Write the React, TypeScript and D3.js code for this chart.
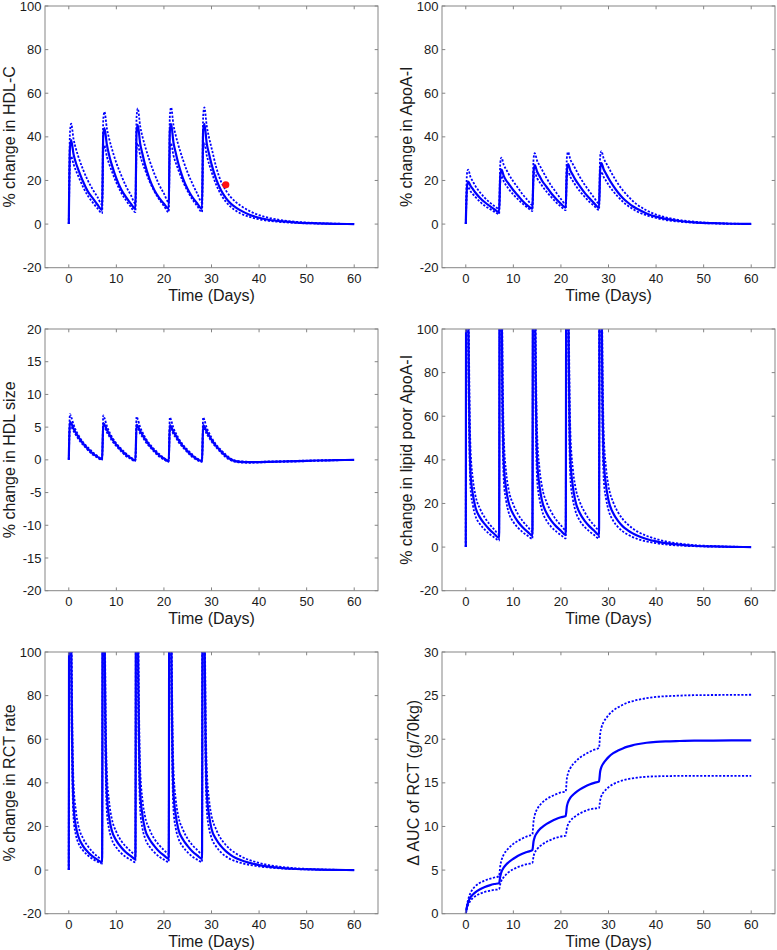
import React from "react";
import * as d3 from "d3";

// Shared time grid (days)
const T = [
  0, 0.25, 0.5, 1, 1.5, 2, 3, 4, 5, 6,
  7, 7.25, 7.5, 8, 8.5, 9, 10, 11, 12, 13,
  14, 14.25, 14.5, 15, 15.5, 16, 17, 18, 19, 20,
  21, 21.25, 21.5, 22, 22.5, 23, 24, 25, 26, 27,
  28, 28.25, 28.5, 29, 29.5, 30, 31, 32, 33, 34,
  35, 36, 38, 40, 42, 45, 48, 52, 56, 60,
];

// % change in HDL-C
const hdlMed = [
  0, 35, 38.5, 32, 28, 25, 19.5, 15, 12, 9,
  6.5, 41, 44, 36.5, 31.5, 27.5, 21, 16, 12.5, 9.5,
  7, 42.5, 45.5, 37, 32, 27.5, 20.5, 15.5, 12, 9.3,
  7, 43, 46, 37.5, 32.5, 28, 21, 16, 12.3, 9.5,
  7, 43, 46, 37, 32, 27.5, 20.5, 15.5, 12, 9.5,
  7.8, 6.4, 4.3, 2.9, 2.0, 1.2, 0.7, 0.35, 0.12, 0,
];
const hdlHi = [
  0, 42, 46, 39, 34.5, 31, 25, 20, 16, 12.5,
  9, 48, 51.5, 44, 39, 35, 28, 22.5, 17.5, 13.5,
  9.5, 49, 53, 45, 40, 36, 29, 23, 18, 14,
  10, 49.5, 53.5, 45.5, 40.5, 36.5, 29.5, 23.5, 18.5, 14,
  10, 49.5, 53.5, 45, 39.5, 35, 26, 19.5, 15.5, 12.5,
  10.3, 8.6, 6, 4.1, 2.9, 1.7, 1.0, 0.5, 0.2, 0.05,
];
const hdlLo = [
  0, 28, 31, 27.5, 24.5, 22, 17, 13, 10, 7.3,
  5, 33, 36, 31, 27.5, 24.5, 19, 14.5, 11, 8,
  5.5, 34, 37, 31.5, 28, 25, 19.5, 15, 11.3, 8.3,
  5.5, 34, 37, 31.5, 28, 25, 19.5, 15, 11.3, 8.3,
  5.5, 34, 37, 31.5, 27.5, 24, 18, 13.5, 10.3, 8,
  6.3, 5, 3.3, 2.2, 1.5, 0.9, 0.5, 0.25, 0.1, 0,
];
const hdlObsT = [33];
const hdlObsV = [18];

// % change in ApoA-I
const apoMed = [
  0, 17, 19.5, 17.5, 16, 14.5, 12, 10, 8.3, 6.8,
  5.5, 22, 25, 22, 20, 18.5, 15.5, 13, 10.5, 8.5,
  7, 24, 27, 24, 22, 20, 17, 14, 11.5, 9.3,
  7.5, 24.5, 27.5, 24.5, 22.5, 20.5, 17.3, 14.3, 11.8, 9.5,
  7.5, 25, 28, 25, 23, 21, 17.5, 14.5, 12, 10,
  8.3, 7, 4.9, 3.4, 2.4, 1.4, 0.8, 0.4, 0.15, 0.05,
];
const apoHi = [
  0, 23, 25, 21.5, 19.5, 17.5, 14.5, 12, 10, 8.3,
  7, 28, 30.5, 27, 25, 23, 19.5, 16.5, 13.5, 11,
  8.7, 30, 32.5, 29, 27, 25, 21, 17.5, 14.5, 11.5,
  9.2, 30.5, 33, 29.5, 27.5, 25.5, 21.5, 18, 15, 12,
  9.5, 31, 33.5, 30, 28, 26, 22, 18.5, 15.5, 13,
  10.8, 9, 6.3, 4.4, 3.1, 1.8, 1.1, 0.5, 0.2, 0.05,
];
const apoLo = [
  0, 15, 17, 15, 13.7, 12.5, 10.2, 8.4, 7, 5.7,
  4.6, 19.5, 22, 19.5, 17.7, 16.2, 13.5, 11.3, 9.3, 7.5,
  6, 21, 23.5, 21, 19.3, 17.7, 14.8, 12.3, 10, 8,
  6.4, 21.5, 24, 21.5, 19.8, 18, 15, 12.5, 10.2, 8.3,
  6.5, 21.5, 24, 21.5, 19.8, 18, 15, 12.5, 10.3, 8.5,
  7, 5.8, 4, 2.8, 1.9, 1.1, 0.6, 0.3, 0.1, 0,
];

// % change in HDL size
const sizeMed = [
  0, 5.8, 5.6, 4.8, 4.1, 3.5, 2.5, 1.7, 1.0, 0.5,
  0.1, 5.6, 5.4, 4.6, 3.9, 3.3, 2.3, 1.5, 0.8, 0.3,
  -0.1, 5.4, 5.2, 4.4, 3.8, 3.2, 2.2, 1.4, 0.7, 0.2,
  -0.2, 5.3, 5.1, 4.3, 3.7, 3.1, 2.1, 1.3, 0.6, 0.1,
  -0.2, 5.3, 5.1, 4.3, 3.7, 3.1, 2.1, 1.3, 0.6, 0.1,
  -0.2, -0.3, -0.35, -0.35, -0.3, -0.25, -0.2, -0.1, -0.05, 0,
];
const sizeHi = [
  0, 7.0, 6.6, 5.4, 4.5, 3.8, 2.7, 1.9, 1.2, 0.6,
  0.15, 6.8, 6.4, 5.2, 4.3, 3.6, 2.5, 1.7, 1.0, 0.4,
  0, 6.6, 6.2, 5.0, 4.2, 3.5, 2.4, 1.6, 0.9, 0.3,
  -0.1, 6.5, 6.1, 4.9, 4.1, 3.4, 2.3, 1.5, 0.8, 0.2,
  -0.1, 6.5, 6.1, 4.9, 4.1, 3.4, 2.3, 1.5, 0.8, 0.2,
  -0.1, -0.2, -0.3, -0.3, -0.25, -0.2, -0.15, -0.08, -0.03, 0,
];
const sizeLo = [
  0, 5.0, 5.0, 4.4, 3.8, 3.2, 2.3, 1.5, 0.8, 0.35,
  0, 4.9, 4.9, 4.2, 3.6, 3.0, 2.1, 1.3, 0.6, 0.15,
  -0.2, 4.8, 4.8, 4.0, 3.5, 2.9, 2.0, 1.2, 0.5, 0.05,
  -0.3, 4.7, 4.7, 3.9, 3.4, 2.8, 1.9, 1.1, 0.4, -0.05,
  -0.3, 4.7, 4.7, 3.9, 3.4, 2.8, 1.9, 1.1, 0.4, -0.05,
  -0.3, -0.4, -0.45, -0.4, -0.35, -0.3, -0.25, -0.15, -0.07, 0,
];

// % change in lipid poor ApoA-I
const lpaMed = [
  0, 300, 120, 34, 24, 18.5, 13.5, 10.5, 8, 6,
  4.2, 320, 130, 38, 26.5, 20.5, 15, 11.5, 9, 7,
  5.3, 330, 135, 40, 28, 21.5, 15.5, 12, 9.5, 7.5,
  5.5, 330, 135, 40, 28, 21.5, 15.5, 12, 9.5, 7.5,
  5.5, 330, 135, 40, 28, 21.5, 15.5, 12, 9.5, 7.8,
  6.4, 5.3, 3.7, 2.6, 1.8, 1.1, 0.6, 0.3, 0.1, 0,
];
const lpaHi = [
  0, 350, 150, 45, 31, 24, 17.5, 13.5, 10.5, 8,
  6, 370, 160, 50, 34, 26.5, 19.5, 15, 11.8, 9.3,
  7.3, 380, 165, 52, 36, 28, 20.5, 16, 12.5, 10,
  7.8, 380, 165, 52, 36, 28, 20.5, 16, 12.5, 10,
  7.8, 380, 165, 52, 36, 28, 20.5, 16, 12.8, 10.5,
  8.7, 7.2, 5.2, 3.7, 2.6, 1.6, 0.9, 0.45, 0.2, 0.05,
];
const lpaLo = [
  0, 250, 95, 27, 19, 14.5, 10.5, 8, 6, 4.4,
  3, 270, 100, 30, 21, 16, 11.5, 8.8, 6.8, 5.2,
  3.8, 280, 105, 31, 22, 17, 12, 9.2, 7.2, 5.5,
  4, 280, 105, 31, 22, 17, 12, 9.2, 7.2, 5.5,
  4, 280, 105, 31, 22, 17, 12, 9.2, 7.2, 5.8,
  4.7, 3.8, 2.6, 1.8, 1.2, 0.7, 0.4, 0.2, 0.05, 0,
];

// % change in RCT rate
const rctMed = [
  0, 300, 110, 30, 20, 15.5, 11, 8.3, 6.3, 4.8,
  3.6, 320, 120, 35, 24, 18.5, 13.5, 10.5, 8.2, 6.5,
  5, 330, 125, 36, 25, 19, 14, 11, 8.5, 6.7,
  5.1, 330, 125, 36, 25, 19, 14, 11, 8.5, 6.7,
  5.1, 330, 125, 36, 25, 19, 14, 11, 8.7, 7,
  5.7, 4.7, 3.3, 2.3, 1.6, 0.9, 0.5, 0.25, 0.1, 0,
];
const rctHi = [
  0, 350, 135, 40, 27, 20.5, 14.5, 11, 8.3, 6.3,
  5, 370, 145, 45, 31, 24, 17.5, 13.5, 10.8, 8.7,
  7, 380, 150, 47, 32, 25, 18.5, 14.3, 11.4, 9.2,
  7.4, 380, 150, 47, 32, 25, 18.5, 14.3, 11.4, 9.2,
  7.4, 380, 150, 47, 32, 25, 18.5, 14.3, 11.5, 9.4,
  7.8, 6.5, 4.6, 3.3, 2.3, 1.4, 0.8, 0.4, 0.15, 0.05,
];
const rctLo = [
  0, 250, 90, 24, 16, 12.5, 9, 6.8, 5.1, 3.9,
  3, 270, 95, 27, 18.5, 14.3, 10.3, 7.8, 6, 4.7,
  3.6, 280, 100, 28, 19, 14.8, 10.7, 8.1, 6.2, 4.8,
  3.7, 280, 100, 28, 19, 14.8, 10.7, 8.1, 6.2, 4.8,
  3.7, 280, 100, 28, 19, 14.8, 10.7, 8.1, 6.3, 5,
  4.1, 3.4, 2.4, 1.7, 1.2, 0.7, 0.4, 0.2, 0.05, 0,
];

// Δ AUC of RCT (g/70kg)
const aucMed = [
  0, 0.8, 1.3, 1.9, 2.2, 2.45, 2.8, 3.05, 3.25, 3.4,
  3.5, 4.3, 4.8, 5.3, 5.65, 5.9, 6.3, 6.65, 6.9, 7.1,
  7.3, 8.3, 8.8, 9.3, 9.65, 9.9, 10.3, 10.6, 10.85, 11.05,
  11.2, 12.3, 12.8, 13.3, 13.6, 13.85, 14.25, 14.55, 14.8, 15,
  15.15, 16.3, 16.8, 17.3, 17.65, 17.95, 18.4, 18.7, 18.95, 19.15,
  19.3, 19.42, 19.6, 19.7, 19.76, 19.8, 19.83, 19.85, 19.86, 19.87,
];
const aucHi = [
  0, 1.0, 1.6, 2.4, 2.85, 3.15, 3.55, 3.8, 4.0, 4.15,
  4.3, 5.5, 6.1, 6.8, 7.2, 7.5, 8.0, 8.35, 8.65, 8.9,
  9.1, 10.6, 11.3, 12.0, 12.4, 12.7, 13.15, 13.45, 13.7, 13.9,
  14.0, 15.5, 16.1, 16.7, 17.1, 17.4, 17.9, 18.25, 18.55, 18.8,
  19.0, 20.6, 21.3, 22.0, 22.4, 22.75, 23.3, 23.65, 23.95, 24.2,
  24.35, 24.5, 24.7, 24.85, 24.93, 25.0, 25.05, 25.07, 25.08, 25.1,
];
const aucLo = [
  0, 0.6, 1.0, 1.5, 1.8, 2.0, 2.3, 2.5, 2.63, 2.73,
  2.8, 3.4, 3.8, 4.2, 4.5, 4.75, 5.1, 5.35, 5.55, 5.7,
  5.8, 6.6, 7.0, 7.4, 7.7, 7.9, 8.25, 8.5, 8.7, 8.85,
  8.95, 9.8, 10.25, 10.65, 10.95, 11.15, 11.5, 11.75, 11.95, 12.05,
  12.1, 13.0, 13.5, 13.95, 14.25, 14.5, 14.85, 15.1, 15.28, 15.42,
  15.52, 15.6, 15.7, 15.75, 15.77, 15.8, 15.8, 15.8, 15.8, 15.8,
];

const xTicks = [0, 10, 20, 30, 40, 50, 60];
const yTicksPct = [-20, 0, 20, 40, 60, 80, 100];
const yTicksSize = [-20, -15, -10, -5, 0, 5, 10, 15, 20];
const yTicksAuc = [0, 5, 10, 15, 20, 25, 30];

const xLabel = "Time (Days)";

const panels = [
  { id: "p1", col: 0, row: 0, yDomain: [-20, 100], yTicks: yTicksPct, label: "% change in HDL-C", med: hdlMed, hi: hdlHi, lo: hdlLo, labelOff: 30 },
  { id: "p2", col: 1, row: 0, yDomain: [-20, 100], yTicks: yTicksPct, label: "% change in ApoA-I", med: apoMed, hi: apoHi, lo: apoLo, labelOff: 30 },
  { id: "p3", col: 0, row: 1, yDomain: [-20, 20], yTicks: yTicksSize, label: "% change in HDL size", med: sizeMed, hi: sizeHi, lo: sizeLo, labelOff: 30 },
  { id: "p4", col: 1, row: 1, yDomain: [-20, 100], yTicks: yTicksPct, label: "% change in lipid poor ApoA-I", med: lpaMed, hi: lpaHi, lo: lpaLo, labelOff: 30 },
  { id: "p5", col: 0, row: 2, yDomain: [-20, 100], yTicks: yTicksPct, label: "% change in RCT rate", med: rctMed, hi: rctHi, lo: rctLo, labelOff: 30 },
  { id: "p6", col: 1, row: 2, yDomain: [0, 30], yTicks: yTicksAuc, label: "\u0394 AUC of RCT (g/70kg)", med: aucMed, hi: aucHi, lo: aucLo, labelOff: 23 },
];

const COLS = [45, 442];
const ROWS = [6, 329, 652];
const PW = 333;
const PH = 261.7;
const TICK = 3.3;
const FONT = "'Liberation Sans', Arial, Helvetica, sans-serif";
const BLUE = "#0000ff";
const AXIS = "#858585";
const TEXT = "#1a1a1a";

function Panel({ p }: { p: any }) {
  const x0 = COLS[p.col];
  const y0 = ROWS[p.row];
  const x = d3.scaleLinear().domain([-5, 65]).range([x0, x0 + PW]);
  const y = d3.scaleLinear().domain(p.yDomain).range([y0 + PH, y0]);
  const line = d3
    .line<number>()
    .x((_, i) => x(T[i]))
    .y((v) => y(v))
    .curve(d3.curveMonotoneX);
  const clipId = `clip-${p.id}`;
  return (
    <g>
      <defs>
        <clipPath id={clipId}>
          <rect x={x0} y={y0} width={PW} height={PH} />
        </clipPath>
      </defs>
      <g clipPath={`url(#${clipId})`}>
        <path d={line(p.hi) || ""} fill="none" stroke={BLUE} strokeWidth={1.8} strokeDasharray="2.2,1.6" />
        <path d={line(p.lo) || ""} fill="none" stroke={BLUE} strokeWidth={1.8} strokeDasharray="2.2,1.6" />
        <path d={line(p.med) || ""} fill="none" stroke={BLUE} strokeWidth={2.2} />
        {p.id === "p1" &&
          hdlObsT.map((t, i) => (
            <circle key={i} cx={x(t)} cy={y(hdlObsV[i])} r={3.6} fill="#ff1010" />
          ))}
      </g>
      <rect x={x0} y={y0} width={PW} height={PH} fill="none" stroke={AXIS} strokeWidth={1} />
      {xTicks.map((t) => (
        <g key={`xt${t}`}>
          <line x1={x(t)} x2={x(t)} y1={y0 + PH} y2={y0 + PH - TICK} stroke={AXIS} />
          <line x1={x(t)} x2={x(t)} y1={y0} y2={y0 + TICK} stroke={AXIS} />
          <text x={x(t)} y={y0 + PH + 15} textAnchor="middle" fontSize={13} fontFamily={FONT} fill={TEXT}>
            {t}
          </text>
        </g>
      ))}
      {p.yTicks.map((t: number) => (
        <g key={`yt${t}`}>
          <line x1={x0} x2={x0 + TICK} y1={y(t)} y2={y(t)} stroke={AXIS} />
          <line x1={x0 + PW} x2={x0 + PW - TICK} y1={y(t)} y2={y(t)} stroke={AXIS} />
          <text x={x0 - 3.5} y={y(t) + 4.6} textAnchor="end" fontSize={13} fontFamily={FONT} fill={TEXT}>
            {t}
          </text>
        </g>
      ))}
      <text x={x0 + PW / 2} y={y0 + PH + 33} textAnchor="middle" fontSize={16} fontFamily={FONT} fill={TEXT}>
        {xLabel}
      </text>
      <text
        transform={`translate(${x0 - p.labelOff},${y0 + PH / 2}) rotate(-90)`}
        textAnchor="middle"
        fontSize={16}
        fontFamily={FONT}
        fill={TEXT}
      >
        {p.label}
      </text>
    </g>
  );
}

export default function App() {
  return (
    <svg
      width={777}
      height={950}
      style={{ position: "absolute", left: 0, top: 0, background: "#fff" }}
    >
      <rect x={0} y={0} width={777} height={950} fill="#fff" />
      {panels.map((p) => (
        <Panel key={p.id} p={p} />
      ))}
    </svg>
  );
}
